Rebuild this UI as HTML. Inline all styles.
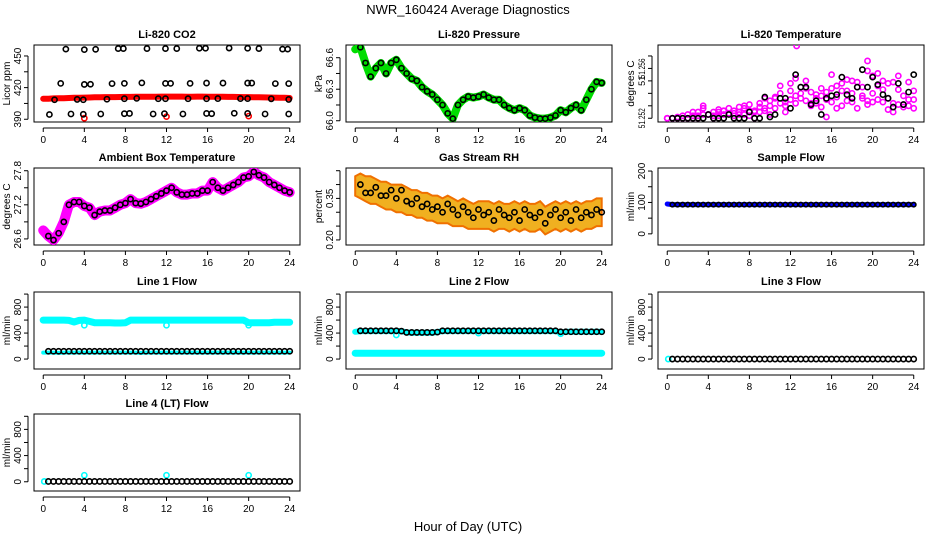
<!DOCTYPE html>
<html><head><meta charset="utf-8"><style>
html,body{margin:0;padding:0;background:#fff}
svg{display:block}
text{font-family:"Liberation Sans",sans-serif;fill:#000}
</style></head><body>
<svg id="chart" width="936" height="540" viewBox="0 0 936 540" xmlns="http://www.w3.org/2000/svg">
<rect width="936" height="540" fill="#fff"/>
<text x="468" y="14" text-anchor="middle" font-size="13">NWR_160424  Average Diagnostics</text>
<text x="468" y="531" text-anchor="middle" font-size="13">Hour of Day (UTC)</text>
</svg>
<script>
// ===== data =====
const hours = [0,0.5,1,1.5,2,2.5,3,3.5,4,4.5,5,5.5,6,6.5,7,7.5,8,8.5,9,9.5,10,10.5,11,11.5,12,12.5,13,13.5,14,14.5,15,15.5,16,16.5,17,17.5,18,18.5,19,19.5,20,20.5,21,21.5,22,22.5,23,23.5,24];
const xTicks = [0,4,8,12,16,20,24];

const co2Band = [409.5,409.5,409.8,410,410,410.2,410.3,410.4,410.5,410.6,410.8,410.8,411,411,411,411.1,411.2,411.2,411.3,411.3,411.4,411.4,411.4,411.5,411.5,411.5,411.5,411.5,411.4,411.4,411.5,411.5,411.4,411.4,411.3,411.3,411.2,411.2,411.1,411,411,410.9,410.8,410.7,410.6,410.5,410.4,410.3,410.2];
const co2HighHours = [2.2,4,5.1,7.3,7.8,10.1,11.9,13,15.2,15.8,18.1,19.9,21,23.3,23.8];
const co2HighVals = [456.5,456,456.3,457,457,457,457,457,457.3,457.3,457.5,457.3,457,456.5,456.5];
const co2MidHours = [1.7,4,4.6,6.7,7.9,9.6,11.9,12.4,14.3,15.9,17.5,19.9,20.3,22.6,23.9];
const co2MidVals = [424,423,423.2,423.8,424,424.5,424,424,424,424.3,424.3,424.3,424.3,423.8,423.8];
const co2LowHours = [0.6,2.7,3.9,5.6,7.9,8.4,10.7,11.8,13.6,15.9,16.4,18.6,19.9,21.6,23.9];
const co2LowVals = [394.5,395,394.7,395,395.3,395.5,395,395.3,395,395.5,395.3,395.7,395.5,395,395];
const co2AmbHours = [1.1,3.3,3.9,6.2,7.9,9.1,11.2,11.9,14.1,15.9,17,19.2,19.9,22.2,23.9];
const co2AmbVals = [408.5,408.8,408.5,409,409.5,409.8,409.5,409.5,409.5,409.5,409.6,409.6,409.6,409.4,408.8];
const co2OutHours = [4,12,20];
const co2OutVals = [391,392.5,393];

const pressure = [66.68,66.7,66.55,66.42,66.5,66.55,66.45,66.55,66.58,66.5,66.45,66.4,66.38,66.32,66.28,66.25,66.2,66.15,66.07,66.02,66.15,66.2,66.23,66.22,66.23,66.25,66.22,66.2,66.2,66.15,66.12,66.1,66.12,66.1,66.05,66.03,66.02,66.02,66.03,66.05,66.1,66.08,66.12,66.15,66.1,66.2,66.3,66.37,66.36];

const liRawA = [0,0,0.1,0,0.3,0.5,0.2,0.8,0.3,0.5,0.7,0.6,0.4,0.6,0.5,0.8,1.1,0.6,0.9,1.6,1.4,1.7,2.0,1.3,2.8,3.2,2.0,3.0,2.1,1.6,2.4,2.1,3.5,2.6,2.8,2.2,3.0,2.9,2.5,3.8,3.4,3.6,2.3,2.8,2.9,3.4,1.8,2.9,2.2];
const liRawB = [0,0,0,0.2,0,0,0.5,1.0,0.3,0.2,0.5,0.3,0.8,0.4,0.9,1.0,0.6,0.5,1.2,0.8,1.0,1.6,2.6,1.0,2.2,1.8,2.5,2.4,1.2,1.9,1.8,1.5,2.4,1.7,2.2,3.1,2.0,2.5,1.8,1.4,2.0,2.6,3.0,1.6,1.2,2.3,1.1,1.5,1.5];
const liRawC = [0,0,0,0,0,0.2,0,0.3,0.3,0,0.2,0.6,0.4,0.2,0.3,0.3,0.2,0,0.5,0.6,0.3,0.8,1.2,0.5,1.5,1.2,1.6,1.4,1.0,1.2,0.9,0.1,1.3,0.8,1.0,1.4,1.3,0.8,1.6,1.1,1.3,1.5,1.3,0.7,0.5,1.1,0.9,1.0,0.8];
const liAvg = [null,0,0,0,0,0,0,0,0.3,0,0,0,0.3,0,0,0,0.5,0,0,1.7,0.1,0.3,1.6,1.6,0.8,3.5,2.5,2.5,1.1,1.4,0.3,1.6,1.8,1.9,3.3,1.9,1.6,2.5,3.9,2.5,3.3,2.7,1.9,1.6,0.9,2.8,1.1,2.1,3.5];
const liTickLabels = ["51.252","","","51","51.256",""];

const ambient = [26.75,26.65,26.58,26.7,26.9,27.2,27.25,27.25,27.18,27.15,27.02,27.08,27.1,27.1,27.15,27.2,27.23,27.3,27.23,27.22,27.25,27.3,27.35,27.4,27.45,27.5,27.42,27.38,27.38,27.4,27.4,27.45,27.45,27.6,27.5,27.45,27.5,27.55,27.6,27.68,27.7,27.78,27.72,27.68,27.6,27.55,27.5,27.45,27.42];

const rhAvg = [null,0.40,0.37,0.37,0.39,0.36,0.36,0.38,0.35,0.38,0.34,0.33,0.35,0.32,0.33,0.31,0.32,0.30,0.33,0.31,0.29,0.32,0.30,0.28,0.31,0.29,0.30,0.27,0.31,0.29,0.28,0.30,0.27,0.31,0.29,0.28,0.30,0.26,0.29,0.31,0.28,0.30,0.27,0.31,0.28,0.30,0.29,0.31,0.30];
const rhUpper = [0.43,0.44,0.43,0.43,0.42,0.41,0.41,0.40,0.40,0.40,0.39,0.38,0.38,0.37,0.37,0.36,0.36,0.35,0.36,0.35,0.34,0.35,0.34,0.33,0.34,0.34,0.34,0.33,0.34,0.33,0.33,0.34,0.33,0.34,0.33,0.33,0.34,0.32,0.33,0.34,0.33,0.34,0.33,0.34,0.33,0.34,0.34,0.35,0.35];
const rhLower = [0.36,0.35,0.34,0.33,0.33,0.32,0.31,0.31,0.30,0.30,0.29,0.29,0.28,0.28,0.27,0.27,0.26,0.26,0.26,0.25,0.25,0.25,0.24,0.24,0.24,0.24,0.24,0.23,0.24,0.24,0.23,0.24,0.23,0.24,0.23,0.23,0.24,0.22,0.23,0.24,0.23,0.24,0.23,0.24,0.23,0.24,0.24,0.25,0.25];

const sampleFlow = [95,93,93,93,93,93,93,93,93,93,93,93,93,93,93,93,93,93,93,93,93,93,93,93,93,93,93,93,93,93,93,93,93,93,93,93,93,93,93,93,93,93,93,93,93,93,93,93,93];

const l1High = [600,600,600,600,600,595,570,595,600,580,560,560,560,560,555,555,560,600,600,600,600,600,600,600,600,600,600,600,600,600,600,600,600,600,600,600,600,600,600,600,560,560,560,560,560,565,565,565,565];
const l1Low = [100,100,100,95,100,100,100,100,100,100,100,100,100,100,100,100,100,100,100,95,100,100,100,100,100,100,100,100,100,100,100,100,100,100,100,100,100,100,100,100,100,100,100,100,100,100,100,100,100];
const l1Avg = [null,120,120,120,120,120,120,120,120,120,120,120,120,120,120,120,120,120,120,120,120,120,120,120,120,120,120,120,120,120,120,120,120,120,120,120,120,120,120,120,120,120,120,120,120,120,120,120,120];
const l1OutHours = [4,12,20];
const l1OutVals = [520,520,520];

const l2High = [420,430,430,430,430,430,430,430,430,430,410,405,405,405,405,405,415,430,430,430,430,430,430,430,430,430,430,430,430,430,430,430,430,430,430,430,430,430,430,430,410,420,420,420,420,420,420,420,420];
const l2Low = [90,90,90,90,90,90,90,90,90,90,90,90,90,90,90,90,90,90,90,90,90,90,90,90,90,90,90,90,90,90,90,90,90,90,90,90,90,90,90,90,90,90,90,90,90,90,90,90,90];
const l2Avg = [null,435,435,435,435,435,435,435,435,430,410,410,410,410,410,410,415,435,435,435,435,435,435,435,435,435,435,435,435,435,435,435,435,435,435,435,435,435,435,435,420,420,420,420,420,420,420,420,420];
const l2OutHours = [4,12,20];
const l2OutVals = [370,400,390];

const l3Avg = [null,0,0,0,0,0,0,0,0,0,0,0,0,0,0,0,0,0,0,0,0,0,0,0,0,0,0,0,0,0,0,0,0,0,0,0,0,0,0,0,0,0,0,0,0,0,0,0,0];
const l4Avg = [null,5,5,5,5,5,5,5,5,5,5,5,5,5,5,5,5,5,5,5,5,5,5,5,5,5,5,5,5,5,5,5,5,5,5,5,5,5,5,5,5,5,5,5,5,5,5,5,5];
const l4OutHours = [4,12,20];
const l4OutVals = [100,100,100];

// ===== drawing =====
const NS = "http://www.w3.org/2000/svg";
const svg = document.getElementById("chart");
const colLeft = [34, 346, 658];
const rowTop = [45, 168, 292, 414];
const BW = 266, BH = 77;
const XMIN = -0.9, XMAX = 25;

function mk(tag, attrs, parent) {
  const e = document.createElementNS(NS, tag);
  for (const k in attrs) e.setAttribute(k, attrs[k]);
  (parent || svg).appendChild(e);
  return e;
}

function makePanel(col, row, name, title, ylabel, ymin, ymax, yTicks, yLabels, compact) {
  const L = colLeft[col], T = rowTop[row], B = T + BH;
  const g = mk("g", {});
  
  
  const sx = h => L + (h - XMIN) / (XMAX - XMIN) * BW;
  const sy = v => B - (v - ymin) / (ymax - ymin) * BH;
  const t = mk("text", {x: L + BW / 2, y: T - 7, "text-anchor": "middle", "font-size": "11", "font-weight": "bold"}, g);
  t.textContent = title;
  
  
  const box = mk("rect", {x: L, y: T, width: BW, height: BH, fill: "none", stroke: "#000", "stroke-width": "1"}, g);
  
  
  const xa = mk("g", {}, g);
  
  
  mk("line", {x1: sx(xTicks[0]), x2: sx(xTicks[xTicks.length - 1]), y1: B + 6, y2: B + 6, stroke: "#000"}, xa);
  xTicks.forEach(v => {
    mk("line", {x1: sx(v), x2: sx(v), y1: B + 6, y2: B + 10, stroke: "#000"}, xa);
    const tl = mk("text", {x: sx(v), y: B + 21, "text-anchor": "middle", "font-size": "10"}, xa);
    tl.textContent = v;
  });
  const ya = mk("g", {}, g);
  
  
  mk("line", {x1: L - 6, x2: L - 6, y1: sy(yTicks[0]), y2: sy(yTicks[yTicks.length - 1]), stroke: "#000"}, ya);
  yTicks.forEach((v, i) => {
    mk("line", {x1: L - 10, x2: L - 6, y1: sy(v), y2: sy(v), stroke: "#000"}, ya);
    if (yLabels[i]) {
      const attrs = {x: 0, y: 0, "text-anchor": "middle", "font-size": compact ? "9" : "10", transform: `translate(${L - 13},${sy(v)}) rotate(-90)`};
      if (compact && yLabels[i].length > 3) { attrs.textLength = "20"; attrs.lengthAdjust = "spacingAndGlyphs"; }
      const tl = mk("text", attrs, ya);
      tl.textContent = yLabels[i];
    }
  });
  const yl = mk("text", {x: 0, y: 0, "text-anchor": "middle", "font-size": "10", transform: `translate(${L - 24},${T + BH / 2}) rotate(-90)`}, g);
  yl.textContent = ylabel;
  
  
  const clip = "c" + col + row;
  const cp = mk("clipPath", {id: clip}, g);
  mk("rect", {x: L, y: T, width: BW, height: BH}, cp);
  const plot = mk("g", {"clip-path": `url(#${clip})`}, g);
  return {sx, sy, plot};
}

function band(P, xs, ys, color, width, name) {
  let d = "";
  xs.forEach((h, i) => { if (ys[i] != null) d += (d ? "L" : "M") + P.sx(h).toFixed(1) + "," + P.sy(ys[i]).toFixed(1); });
  const p = mk("path", {d, fill: "none", stroke: color, "stroke-width": width, "stroke-linejoin": "round", "stroke-linecap": "round"}, P.plot);
  
  
}
function pts(P, xs, ys, color, name, r) {
  const g = mk("g", {}, P.plot);
  
  
  xs.forEach((h, i) => {
    if (ys[i] == null) return;
    const c = mk("circle", {cx: P.sx(h), cy: P.sy(ys[i]), r: r || 2.6, fill: "none", stroke: color, "stroke-width": "1.6"}, g);
    
    
  });
}
function area(P, xs, up, lo, name) {
  let d = "";
  xs.forEach((h, i) => d += (i ? "L" : "M") + P.sx(h).toFixed(1) + "," + P.sy(up[i]).toFixed(1));
  for (let i = xs.length - 1; i >= 0; i--) d += "L" + P.sx(xs[i]).toFixed(1) + "," + P.sy(lo[i]).toFixed(1);
  const p = mk("path", {d: d + "Z", fill: "#f0b020", stroke: "#f07000", "stroke-width": "2"}, P.plot);
  
  
}

let P = makePanel(0, 0, "panel-co2", "Li-820 CO2", "Licor ppm", 387.4, 460.4, [390,405,420,435,450], ["390","","420","","450"]);
band(P, hours, co2Band, "#f00", 6, "co2-raw-band");
pts(P, co2OutHours, co2OutVals, "#f00", "co2-raw-outliers");
pts(P, co2HighHours, co2HighVals, "#000", "co2-high-cal");
pts(P, co2MidHours, co2MidVals, "#000", "co2-mid-cal");
pts(P, co2LowHours, co2LowVals, "#000", "co2-low-cal");
pts(P, co2AmbHours, co2AmbVals, "#000", "co2-ambient-avg");

P = makePanel(1, 0, "panel-pressure", "Li-820 Pressure", "kPa", 65.988, 66.721, [66.0,66.15,66.3,66.45,66.6], ["66.0","","66.3","","66.6"]);
band(P, hours, pressure, "#0d0", 8, "pressure-raw-band");
pts(P, hours.slice(1), pressure.slice(1), "#000", "pressure-avg");

P = makePanel(2, 0, "panel-li-temp", "Li-820 Temperature", "degrees C", -0.3, 5.88, [0,1,2,3,4,5], liTickLabels, true);
pts(P, hours, liRawA, "#f0f", "li-temp-raw-a");
pts(P, hours, liRawB, "#f0f", "li-temp-raw-b");
pts(P, hours, liRawC, "#f0f", "li-temp-raw-c");
pts(P, [12.6, 19.5], [5.8, 4.6], "#f0f", "li-temp-raw-outliers");
pts(P, hours, liAvg, "#000", "li-temp-avg");

P = makePanel(0, 1, "panel-ambient-temp", "Ambient Box Temperature", "degrees C", 26.493, 27.848, [26.6,26.9,27.2,27.5,27.8], ["26.6","","27.2","","27.8"]);
band(P, hours, ambient, "#f0f", 10, "ambient-raw-band");
pts(P, hours.slice(1), ambient.slice(1), "#000", "ambient-avg");

P = makePanel(1, 1, "panel-gas-rh", "Gas Stream RH", "percent", 0.1817, 0.4598, [0.20,0.25,0.30,0.35,0.40,0.45], ["0.20","","","0.35","",""]);
area(P, hours, rhUpper, rhLower, "rh-raw-band");
pts(P, hours, rhAvg, "#000", "rh-avg");

P = makePanel(2, 1, "panel-sample-flow", "Sample Flow", "ml/min", -35.5, 209.7, [0,50,100,150,200], ["0","","100","","200"]);
band(P, hours, sampleFlow, "#00f", 5, "sample-flow-raw");
pts(P, hours.slice(1), sampleFlow.slice(1), "#000", "sample-flow-avg", 2.2);

const flowTicks = [0,200,400,600,800,1000], flowLabels = ["0","","400","","800",""];
P = makePanel(0, 2, "panel-line1-flow", "Line 1 Flow", "ml/min", -153, 1032, flowTicks, flowLabels);
band(P, hours, l1High, "#0ff", 7, "line1-high-raw");
band(P, hours, l1Low, "#0ff", 4, "line1-low-raw");
pts(P, l1OutHours, l1OutVals, "#0ff", "line1-outliers");
pts(P, hours, l1Avg, "#000", "line1-avg");

P = makePanel(1, 2, "panel-line2-flow", "Line 2 Flow", "ml/min", -153, 1032, flowTicks, flowLabels);
band(P, hours, l2High, "#0ff", 6, "line2-high-raw");
band(P, hours, l2Low, "#0ff", 7, "line2-low-raw");
pts(P, l2OutHours, l2OutVals, "#0ff", "line2-outliers");
pts(P, hours, l2Avg, "#000", "line2-avg");

P = makePanel(2, 2, "panel-line3-flow", "Line 3 Flow", "ml/min", -153, 1032, flowTicks, flowLabels);
pts(P, [0.1], [0], "#0ff", "line3-raw");
pts(P, hours, l3Avg, "#000", "line3-avg");

P = makePanel(0, 3, "panel-line4-flow", "Line 4 (LT) Flow", "ml/min", -141, 1035, flowTicks, flowLabels);
pts(P, [0.1], [5], "#0ff", "line4-raw");
pts(P, l4OutHours, l4OutVals, "#0ff", "line4-outliers");
pts(P, hours, l4Avg, "#000", "line4-avg");
</script>
</body></html>
